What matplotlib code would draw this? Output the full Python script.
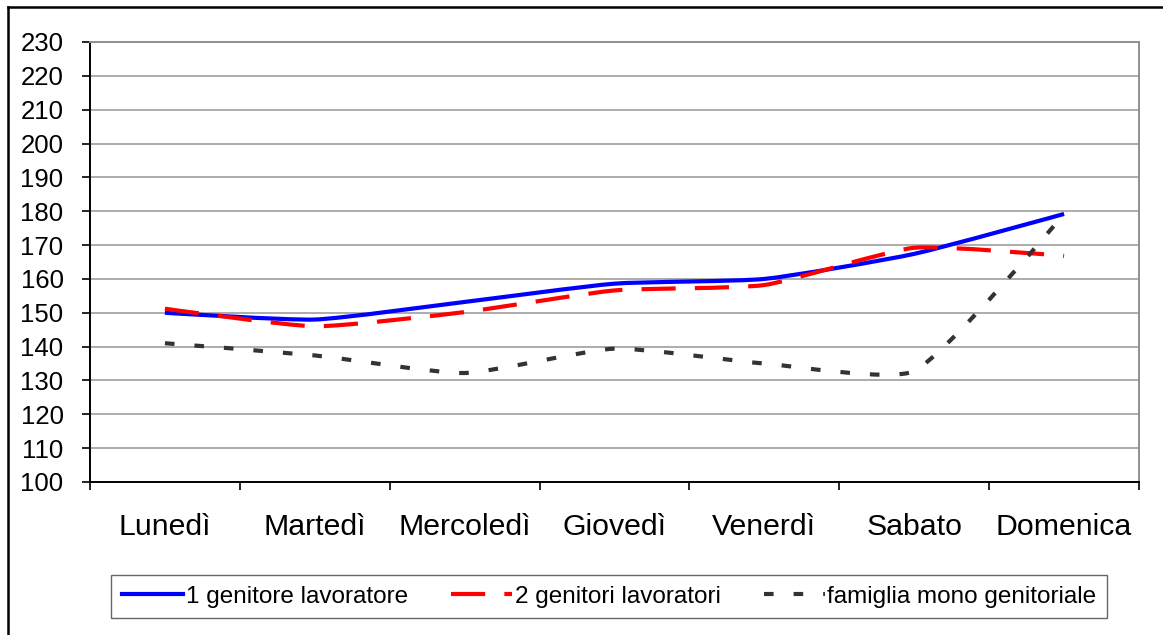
import numpy as np
import matplotlib
matplotlib.use("Agg")
import matplotlib.pyplot as plt
from matplotlib.path import Path
from matplotlib.patches import PathPatch
from matplotlib.lines import Line2D

plt.rcParams['font.family'] = ['Liberation Sans', 'DejaVu Sans']

# dati
giorni = ["Lunedì", "Martedì", "Mercoledì", "Giovedì", "Venerdì", "Sabato", "Domenica"]
un_genitore = [150.0, 148.0, 153.2, 158.6, 160.0, 167.4, 179.2]
due_genitori = [151.2, 146.0, 150.2, 156.6, 158.2, 169.2, 166.8]
mono_genitore = [141.0, 137.4, 132.2, 139.4, 135.0, 132.8, 179.2]

serie = [
    ("1 genitore lavoratore", un_genitore, "#0000FF", None),
    ("2 genitori lavoratori", due_genitori, "#FF0000", (0, (8.2, 4.6))),
    ("famiglia mono genitoriale", mono_genitore, "#333333", (0, (2.3, 4.8))),
]

fig = plt.figure(figsize=(11.63, 6.35), dpi=100)
ax = fig.add_axes([90 / 1163, 1 - 482 / 635, (1139 - 90) / 1163, (482 - 42) / 635])

ax.set_xlim(-0.5, len(giorni) - 0.5)
ax.set_ylim(100, 230)

# scala pixel per smussare la linea come Excel
sx = 150.0
sy = 3.385


def linea_smussata(xs, ys, s=0.18):
    # curva di Bezier passante per i punti (stile "linea smussata")
    px = np.array(xs, float) * sx
    py = np.array(ys, float) * sy
    pts = np.column_stack([px, py])
    n = len(pts)
    verts = [pts[0]]
    codes = [Path.MOVETO]
    for i in range(n - 1):
        p0 = pts[i - 1] if i > 0 else pts[i]
        p1, p2 = pts[i], pts[i + 1]
        p3 = pts[i + 2] if i + 2 < n else pts[i + 1]
        l01 = np.hypot(*(p1 - p0))
        l12 = np.hypot(*(p2 - p1))
        l23 = np.hypot(*(p3 - p2))
        c1 = p1 + (p2 - p0) * (l12 / (l01 + l12)) * s if i > 0 else p1
        c2 = p2 - (p3 - p1) * (l12 / (l12 + l23)) * s if i + 2 < n else p2
        verts += [c1, c2, p2]
        codes += [Path.CURVE4] * 3
    verts = np.array(verts)
    verts[:, 0] /= sx
    verts[:, 1] /= sy
    return Path(verts, codes)


x = np.arange(len(giorni))
handles = []
for nome, valori, colore, dash in serie:
    stile = dash if dash else "-"
    p = linea_smussata(x, valori)
    ax.add_patch(PathPatch(p, fill=False, edgecolor=colore, linewidth=3.0,
                           linestyle=stile, capstyle="butt", zorder=3))
    handles.append(Line2D([0], [0], color=colore, linewidth=3.0, linestyle=stile, label=nome))

# griglia e assi
ax.set_yticks(range(100, 231, 10))
ax.yaxis.grid(True, color="#A6A6A6", linewidth=1.3)
ax.set_axisbelow(True)
ax.tick_params(axis="y", direction="out", length=6, width=1.2, pad=13, labelsize=18.5)

ax.set_xticks(x)
ax.set_xticklabels(giorni, fontsize=21.8)
ax.set_xticks(np.arange(-0.5, len(giorni), 1.0), minor=True)
ax.tick_params(axis="x", which="major", length=0, pad=22)
ax.tick_params(axis="x", which="minor", direction="out", length=6, width=1.2)

for lato in ["left", "bottom"]:
    ax.spines[lato].set_color("black")
    ax.spines[lato].set_linewidth(1.4)
for lato in ["top", "right"]:
    ax.spines[lato].set_color("#909090")
    ax.spines[lato].set_linewidth(1.4)

leg = fig.legend(handles=handles, loc="center", bbox_to_anchor=(0.524, 0.0606),
                 ncol=3, fontsize=17.5, frameon=True, fancybox=False,
                 handlelength=2.5, handletextpad=0.1, columnspacing=1.8,
                 borderpad=0.45)
leg.get_frame().set_edgecolor("#404040")
leg.get_frame().set_linewidth(1.0)

# cornice esterna
fig.add_artist(Line2D([8 / 1163, 8 / 1163], [0, 1 - 7 / 635], color="black", linewidth=1.8,
                      transform=fig.transFigure))
fig.add_artist(Line2D([8 / 1163, 1], [1 - 7 / 635, 1 - 7 / 635], color="black", linewidth=1.8,
                      transform=fig.transFigure))

fig.savefig("out.png", dpi=100)
